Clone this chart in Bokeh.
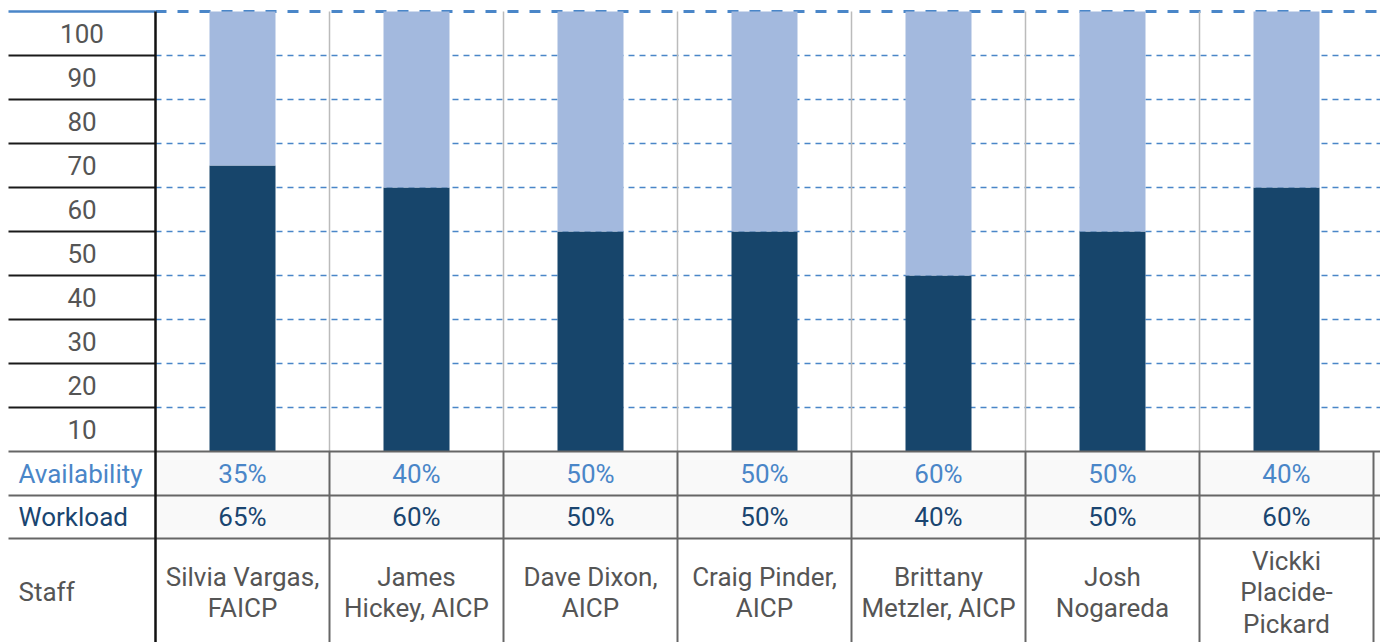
from bokeh.plotting import figure
from bokeh.models import Range1d, ColumnDataSource
from bokeh.core.properties import value
from bokeh.embed import file_html
from bokeh.resources import INLINE

# ---------------- data ----------------
staff = [
    "Silvia Vargas,\nFAICP",
    "James\nHickey, AICP",
    "Dave Dixon,\nAICP",
    "Craig Pinder,\nAICP",
    "Brittany\nMetzler, AICP",
    "Josh\nNogareda",
    "Vickki\nPlacide-\nPickard",
]
workload = [65, 60, 50, 50, 40, 50, 60]
availability = [35, 40, 50, 50, 60, 50, 40]
tick_values = [10, 20, 30, 40, 50, 60, 70, 80, 90, 100]
tick_labels = ["10", "20", "30", "40", "50", "60", "70", "80", "90", "100"]
row_labels = ["Availability", "Workload", "Staff"]

# ---------------- styling / layout ----------------
FONT = "Roboto"
FS = "26px"
DARK = "#17456b"
LIGHT = "#a3b9de"
BLUE = "#4a86c8"
NAVY = "#1a4570"
GRAY_TXT = "#555555"
TABLE_LINE = "#666666"

W, H = 1380, 642
PX_X = 174.0          # pixels per staff column
PX_Y = 4.4            # pixels per percent
LEFT_COL = 155.0      # pixel width of label column
ZERO_Y = 451.0        # pixel row of the 0 baseline
X0 = -LEFT_COL / PX_X
X1 = X0 + W / PX_X
Y1 = ZERO_Y / PX_Y
Y0 = Y1 - H / PX_Y
row_edges = [0, -10, -19.8]
row_centers = [-5, -14.9, -32.0]
bar_w = 66.0 / PX_X

n = len(staff)
xc = [i + 0.5 for i in range(n)]

p = figure(width=W, height=H, x_range=Range1d(X0, X1), y_range=Range1d(Y0, Y1),
           output_backend="svg", toolbar_location=None,
           x_axis_location=None, y_axis_location=None, min_border=0,
           outline_line_color=None, background_fill_color="white",
           border_fill_color="white")
p.xgrid.visible = False
p.ygrid.visible = False

# shaded value rows
p.quad(left=[0, 0], right=[X1, X1], top=row_edges[:2], bottom=row_edges[1:],
       fill_color="#f9f9f9", line_color=None)

# dashed grid lines
grid_y = tick_values[:-1]
p.segment(x0=[0] * len(grid_y), x1=[X1] * len(grid_y), y0=grid_y, y1=grid_y,
          line_color=BLUE, line_width=1.3, line_dash="6 5")
# top border line
p.segment(x0=[0], x1=[X1], y0=[tick_values[-1]], y1=[tick_values[-1]],
          line_color=BLUE, line_width=3, line_dash="11 11")
p.segment(x0=[X0 + 8.0 / PX_X], x1=[0], y0=[tick_values[-1]], y1=[tick_values[-1]],
          line_color=BLUE, line_width=2.5)

# light vertical separators in chart area
vx = list(range(1, n))
p.segment(x0=vx, x1=vx, y0=[0] * len(vx), y1=[tick_values[-1]] * len(vx),
          line_color="#bbbbbb", line_width=1.5)

# stacked bars
src = ColumnDataSource(dict(x=xc, workload=workload, availability=availability,
                            total=[w + a for w, a in zip(workload, availability)]))
p.vbar(x="x", width=bar_w, bottom=0, top="workload", source=src,
       fill_color=DARK, line_color=None)
p.vbar(x="x", width=bar_w, bottom="workload", top="total", source=src,
       fill_color=LIGHT, line_color=None)

# left label column lines
lx0 = X0 + 8.0 / PX_X
p.segment(x0=[lx0] * len(grid_y), x1=[0] * len(grid_y), y0=grid_y, y1=grid_y,
          line_color="#1a1a1a", line_width=2)

# table horizontal lines
p.segment(x0=[lx0] * len(row_edges), x1=[X1] * len(row_edges), y0=row_edges,
          y1=row_edges, line_color=TABLE_LINE, line_width=2)
# table vertical lines
tx = list(range(1, n + 1))
p.segment(x0=tx, x1=tx, y0=[0] * len(tx), y1=[Y0] * len(tx),
          line_color=TABLE_LINE, line_width=2)
# main black vertical divider
p.segment(x0=[0], x1=[0], y0=[Y0], y1=[tick_values[-1]],
          line_color="#111111", line_width=2.5)

# tick labels (centered in their band)
cx = (lx0 + 0) / 2
p.text(x=[cx] * len(tick_values), y=[t - 5 for t in tick_values], text=tick_labels,
       text_font=value(FONT), text_font_size=value(FS), text_color=GRAY_TXT,
       text_align="center", text_baseline="middle")

# row labels
lx = X0 + 18.0 / PX_X
p.text(x=[lx] * 3, y=row_centers, text=row_labels,
       text_font=value(FONT), text_font_size=value(FS),
       text_color=[BLUE, NAVY, GRAY_TXT], text_align="left", text_baseline="middle")

# values
p.text(x=xc, y=[row_centers[0]] * n, text=[f"{a}%" for a in availability],
       text_font=value(FONT), text_font_size=value(FS), text_color=BLUE,
       text_align="center", text_baseline="middle")
p.text(x=xc, y=[row_centers[1]] * n, text=[f"{w}%" for w in workload],
       text_font=value(FONT), text_font_size=value(FS), text_color=NAVY,
       text_align="center", text_baseline="middle")
# staff names
p.text(x=xc, y=[row_centers[2]] * n, text=staff,
       text_font=value(FONT), text_font_size=value(FS), text_color=GRAY_TXT,
       text_align="center", text_baseline="middle", text_line_height=1.05)

open("out.html", "w").write(file_html(p, INLINE))
